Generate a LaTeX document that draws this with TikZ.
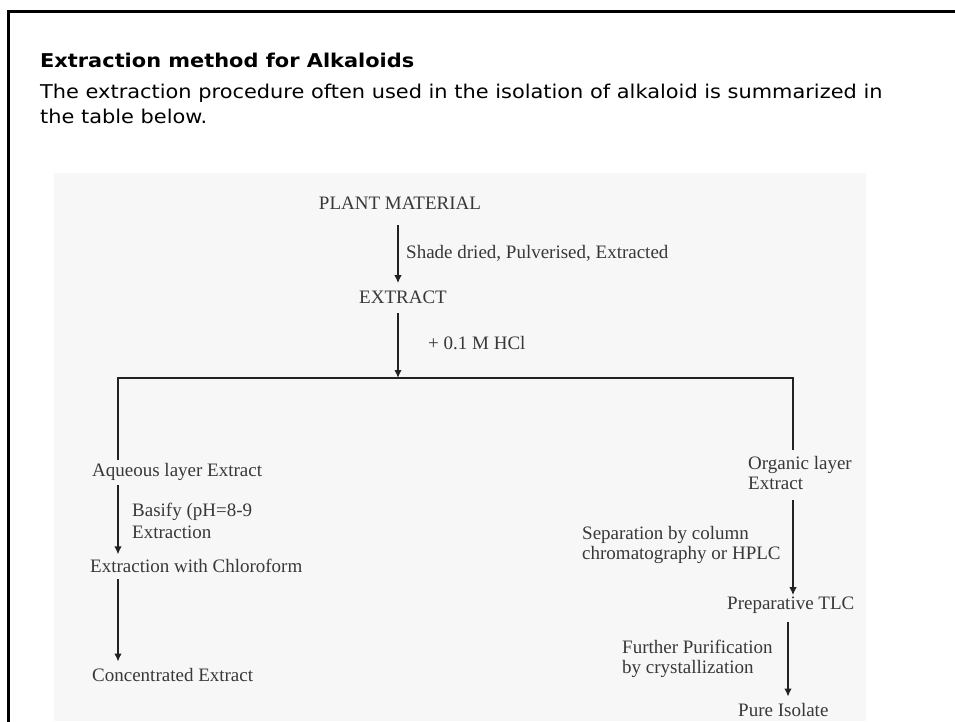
\documentclass[tikz,border=0pt]{standalone}
\usepackage{fontspec}
\setmainfont{Liberation Serif}
\newfontfamily\hdrfont[FakeStretch=1.1]{DejaVu Sans}
\usetikzlibrary{arrows.meta}
\definecolor{panelgray}{HTML}{F7F7F7}
\definecolor{inkgray}{HTML}{383838}
\definecolor{linegray}{HTML}{222222}
\tikzset{
  hdr/.style={anchor=base west, inner sep=0pt, font=\hdrfont\fontsize{19}{23}\selectfont, text=black},
  lbl/.style={anchor=base west, inner sep=0pt, font=\fontsize{19}{21}\selectfont, text=inkgray},
  clbl/.style={anchor=base, inner sep=0pt, font=\fontsize{19}{21}\selectfont, text=inkgray},
  conn/.style={draw=linegray, line width=1.6pt},
  arr/.style={conn, -{Latex[length=8pt,width=7.5pt]}},
}
\begin{document}
\begin{tikzpicture}[x=1pt,y=-1pt]
\useasboundingbox (0,0) rectangle (955,721);
\fill[white] (0,0) rectangle (955,721);
% outer frame
\draw[black, line width=3pt] (8,740) -- (8,11) -- (970,11);
% gray panel
\fill[panelgray] (54,173) rectangle (866,721);
% header
\node[hdr, font=\hdrfont\bfseries\fontsize{19}{23}\selectfont] (title) at (40,67) {Extraction method for Alkaloids};
\node[hdr] (intro1) at (40,98) {The extraction procedure often used in the isolation of alkaloid is summarized in};
\node[hdr] (intro2) at (40,123) {the table below.};
% flow chart
\coordinate (ax) at (398,0);
\coordinate (lt) at (118,378);
\coordinate (junc) at (398,378);
\coordinate (rt) at (793,378);
\coordinate (cx) at (788,0);
\node[clbl] (plant) at (400,209) {PLANT MATERIAL};
\node[lbl] (shade) at (406,258) {Shade dried, Pulverised, Extracted};
\node[clbl] (extract) at (403,303) {EXTRACT};
\node[lbl] (hcl) at (428,349) {+ 0.1 M HCl};
\node[lbl] (aq) at (92,476) {Aqueous layer Extract};
\node[lbl] (basify) at (132,516) {Basify (pH=8-9};
\node[lbl] (basify2) at (132,538) {Extraction};
\node[lbl] (chloro) at (90,572) {Extraction with Chloroform};
\node[lbl] (conc) at (92,681) {Concentrated Extract};
\node[lbl] (org) at (748,469) {Organic layer};
\node[lbl] (org2) at (748,489) {Extract};
\node[lbl] (sep) at (582,539) {Separation by column};
\node[lbl] (sep2) at (582,559) {chromatography or HPLC};
\node[lbl] (prep) at (727,609) {Preparative TLC};
\node[lbl] (purif) at (622,653) {Further Purification};
\node[lbl] (purif2) at (622,673) {by crystallization};
\node[lbl] (pure) at (738,716) {Pure Isolate};
% connectors
\draw[arr, shorten <=16pt, shorten >=7pt] (ax |- plant.south) -- (ax |- extract.north);
\draw[arr, shorten <=10pt] (ax |- extract.south) -- (junc);
\draw[conn] ([yshift=3pt]lt |- aq.north) -- (lt) -- (rt) -- ([yshift=6pt]rt |- org.north);
\draw[arr, shorten <=5pt, shorten >=4pt] (lt |- aq.south) -- (lt |- chloro.north);
\draw[arr, shorten <=7pt, shorten >=6pt] (lt |- chloro.south) -- (lt |- conc.north);
\draw[arr, shorten <=11pt, shorten >=1pt] (rt |- org2.south) -- (rt |- prep.north);
\draw[arr, shorten <=9pt, shorten >=6pt] (cx |- prep.south) -- (cx |- pure.north);
\end{tikzpicture}
\end{document}
